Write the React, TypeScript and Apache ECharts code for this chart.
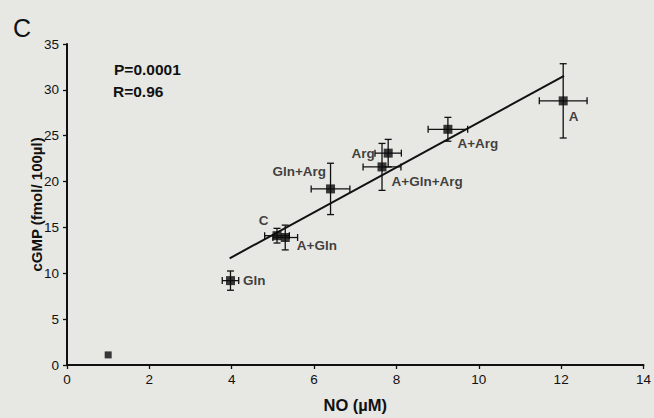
import React, { useEffect, useRef } from "react";
import * as echarts from "echarts";

const pointLabels = ["", "Gln", "C", "A+Gln", "Gln+Arg", "A+Gln+Arg", "Arg", "A+Arg", "A"];
const noValues = [1.0, 3.97, 5.1, 5.3, 6.4, 7.65, 7.8, 9.25, 12.05];
const cgmpValues = [1.1, 9.2, 14.1, 13.9, 19.2, 21.6, 23.1, 25.7, 28.8];
const noErrors = [0, 0.2, 0.3, 0.3, 0.47, 0.46, 0.32, 0.48, 0.58];
const cgmpErrors = [0, 1.05, 0.8, 1.35, 2.8, 2.56, 1.5, 1.3, 4.05];
const fitSlope = 2.45;
const fitIntercept = 1.95;
const fitRange = [3.95, 12.07];
const xTicks = [0, 14, 2];
const yTicks = [0, 35, 5];
const statsText = ["P=0.0001", "R=0.96"];

const labelStyle: Record<string, { position: string; offset: number[] }> = {
  Gln: { position: "right", offset: [3, 0] },
  C: { position: "left", offset: [1, -15] },
  "A+Gln": { position: "right", offset: [2, 8] },
  "Gln+Arg": { position: "left", offset: [5, -17] },
  "A+Gln+Arg": { position: "right", offset: [0, 15] },
  Arg: { position: "left", offset: [-4, 0] },
  "A+Arg": { position: "right", offset: [0, 14] },
  A: { position: "right", offset: [-4, 16] },
};

const INK = "#111111";
const FONT = "'Liberation Sans', Arial, Helvetica, sans-serif";

export default function App() {
  const ref = useRef<HTMLDivElement>(null);
  useEffect(() => {
    if (!ref.current) return;
    const chart = echarts.init(ref.current, undefined, { renderer: "svg" });

    const scatterData = noValues.map((x, i) => {
      const name = pointLabels[i];
      const ls = labelStyle[name];
      return {
        value: [x, cgmpValues[i]],
        symbolSize: name ? 9 : 7,
        label: ls
          ? {
              show: true,
              formatter: name,
              position: ls.position,
              offset: ls.offset,
              distance: 5,
              color: INK,
              fontWeight: "bold",
              fontSize: 13.5,
              fontFamily: FONT,
            }
          : { show: false },
      };
    });

    const errData = noValues.map((x, i) => [x, cgmpValues[i], noErrors[i], cgmpErrors[i]]);
    const fitData = fitRange.map((x) => [x, fitIntercept + fitSlope * x]);

    chart.setOption({
      animation: false,
      backgroundColor: "#e7e7e3",
      textStyle: { fontFamily: FONT },
      grid: { left: 67, right: 9, top: 44, bottom: 51, containLabel: false },
      xAxis: {
        type: "value",
        min: xTicks[0],
        max: xTicks[1],
        interval: xTicks[2],
        name: "NO (µM)",
        nameLocation: "middle",
        nameGap: 31,
        nameMoveOverlap: false,
        nameTextStyle: { fontSize: 16.5, fontWeight: "bold", color: INK, fontFamily: FONT },
        axisLine: { lineStyle: { color: INK, width: 2 } },
        axisTick: { show: true, length: 4, lineStyle: { color: INK, width: 1.3 } },
        axisLabel: { fontSize: 13.5, color: INK, margin: 7, fontFamily: FONT },
        splitLine: { show: false },
      },
      yAxis: {
        type: "value",
        min: yTicks[0],
        max: yTicks[1],
        interval: yTicks[2],
        name: "cGMP (fmol/ 100µl)",
        nameLocation: "middle",
        nameGap: 23,
        nameMoveOverlap: false,
        nameTextStyle: { fontSize: 15, fontWeight: "bold", color: INK, fontFamily: FONT },
        axisLine: { show: true, lineStyle: { color: INK, width: 2 } },
        axisTick: { show: true, length: 4, lineStyle: { color: INK, width: 1.3 } },
        axisLabel: { fontSize: 13.5, color: INK, margin: 8, fontFamily: FONT },
        splitLine: { show: false },
      },
      series: [
        {
          type: "line",
          data: fitData,
          symbol: "none",
          lineStyle: { color: INK, width: 2 },
          silent: true,
          z: 2,
        },
        {
          type: "custom",
          data: errData,
          encode: { x: 0, y: 1 },
          z: 3,
          renderItem: (params: any, api: any) => {
            const x = api.value(0);
            const y = api.value(1);
            const ex = api.value(2);
            const ey = api.value(3);
            if (!ex && !ey) return null;
            const l = api.coord([x - ex, y]);
            const r = api.coord([x + ex, y]);
            const t = api.coord([x, y + ey]);
            const b = api.coord([x, y - ey]);
            const cap = 3.5;
            const st = { stroke: INK, lineWidth: 1.3 };
            const line = (x1: number, y1: number, x2: number, y2: number) => ({
              type: "line",
              shape: { x1, y1, x2, y2 },
              style: st,
            });
            return {
              type: "group",
              children: [
                line(l[0], l[1], r[0], r[1]),
                line(l[0], l[1] - cap, l[0], l[1] + cap),
                line(r[0], r[1] - cap, r[0], r[1] + cap),
                line(t[0], t[1], b[0], b[1]),
                line(t[0] - cap, t[1], t[0] + cap, t[1]),
                line(b[0] - cap, b[1], b[0] + cap, b[1]),
              ],
            };
          },
        },
        {
          type: "scatter",
          data: scatterData,
          symbol: "rect",
          itemStyle: { color: "#0a0a0a" },
          z: 4,
        },
      ],
      graphic: [
        {
          type: "text",
          left: 13,
          top: 15,
          style: { text: "C", fontSize: 25, fill: INK, fontFamily: FONT },
        },
        {
          type: "text",
          x: 114,
          y: 69.5,
          style: {
            text: statsText[0],
            fontSize: 15.5,
            fontWeight: "bold",
            fill: INK,
            fontFamily: FONT,
            verticalAlign: "middle",
          },
        },
        {
          type: "text",
          x: 113,
          y: 91,
          style: {
            text: statsText[1],
            fontSize: 15.5,
            fontWeight: "bold",
            fill: INK,
            fontFamily: FONT,
            verticalAlign: "middle",
          },
        },
      ],
    });
    return () => chart.dispose();
  }, []);

  return (
    <div
      ref={ref}
      style={{ position: "fixed", left: 0, top: 0, width: 654, height: 418 }}
    />
  );
}
